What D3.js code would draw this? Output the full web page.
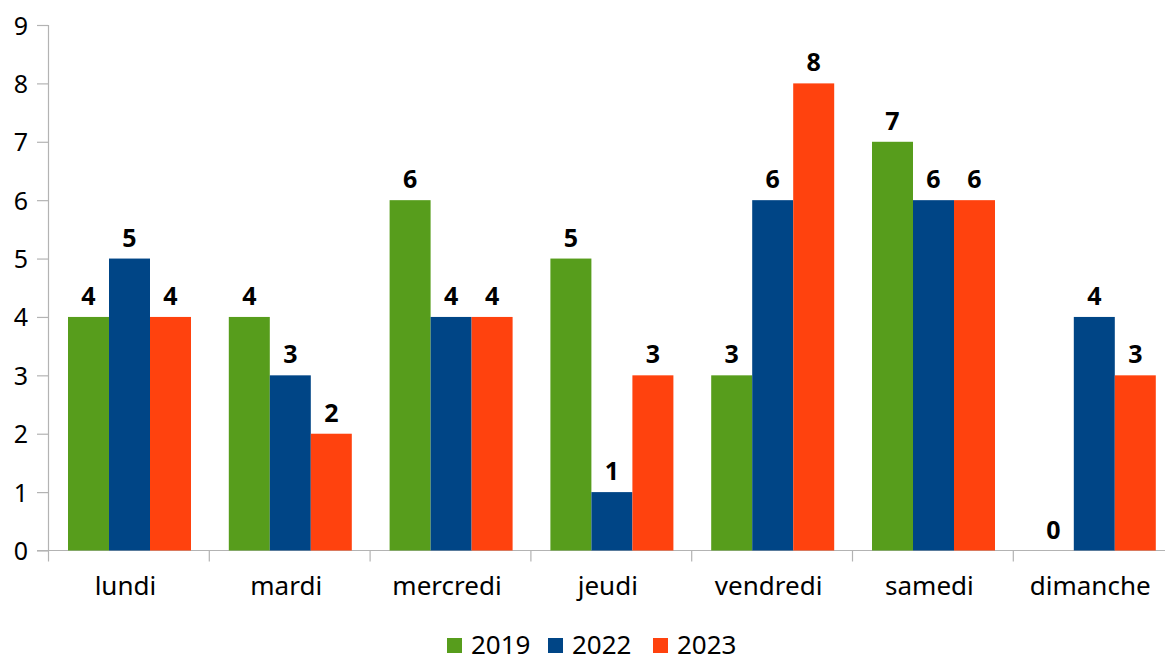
<!DOCTYPE html>
<html>
<head>
<meta charset="utf-8">
<style>
html, body { margin: 0; padding: 0; background: #fff; }
svg { display: block; }
text { font-family: "Noto Sans", sans-serif; fill: #000; }
</style>
</head>
<body>
<svg id="chart" width="1165" height="664"></svg>
<script src="https://d3js.org/d3.v7.min.js"></script>
<script>
var days = ["lundi", "mardi", "mercredi", "jeudi", "vendredi", "samedi", "dimanche"];
var seriesNames = ["2019", "2022", "2023"];
var values2019 = [4, 4, 6, 5, 3, 7, 0];
var values2022 = [5, 3, 4, 1, 6, 6, 4];
var values2023 = [4, 2, 4, 3, 8, 6, 3];
var yTicks = [0, 1, 2, 3, 4, 5, 6, 7, 8, 9];
var colors = ["#579d1c", "#004586", "#ff420e"];

var allSeries = [values2019, values2022, values2023];

var svg = d3.select("#chart");
var left = 48, bandW = 160.8;

var x = d3.scaleBand().domain(days).range([left, left + days.length * bandW]);
var xs = d3.scaleBand().domain(seriesNames).range([20, 143]);
var y = d3.scaleLinear().domain([0, 9]).range([550.5, 25]);

// y axis
var yAxis = svg.append("g").attr("transform", "translate(" + left + ",0)")
    .call(d3.axisLeft(y).tickValues(yTicks).tickSize(11).tickPadding(9).tickFormat(d3.format("d")));
yAxis.selectAll("path, line").attr("stroke", "#b3b3b3").attr("stroke-width", 1.2);
yAxis.select(".domain").attr("d", "M0.5," + y(9) + "V" + y(0));
yAxis.selectAll("text").style("font-size", "25px").attr("dy", "0.36em").attr("fill", "#000");

// x axis: baseline and boundary ticks
var xAxis = svg.append("g").attr("transform", "translate(0," + y(0) + ")");
xAxis.append("line").attr("x1", left - 11).attr("x2", 1165).attr("y1", 0).attr("y2", 0)
    .attr("stroke", "#b3b3b3").attr("stroke-width", 1.2);
xAxis.selectAll(".bt").data(days).enter().append("line")
    .attr("x1", function(d) { return x(d) + 0.5; })
    .attr("x2", function(d) { return x(d) + 0.5; })
    .attr("y1", 0).attr("y2", 11)
    .attr("stroke", "#b3b3b3").attr("stroke-width", 1.2);
xAxis.selectAll(".xl").data(days).enter().append("text")
    .attr("x", function(d) { return x(d) + bandW / 2 - 3; })
    .attr("y", 44)
    .attr("text-anchor", "middle")
    .style("font-size", "26px")
    .text(function(d) { return d; });

// bars
seriesNames.forEach(function(s, si) {
    var g = svg.append("g");
    var data = days.map(function(d, i) { return { day: d, v: allSeries[si][i] }; });
    g.selectAll("rect").data(data).enter().append("rect")
        .attr("x", function(d) { return x(d.day) + xs(s); })
        .attr("width", xs.bandwidth())
        .attr("y", function(d) { return y(d.v); })
        .attr("height", function(d) { return y(0) - y(d.v); })
        .attr("fill", colors[si]);
    g.selectAll("text").data(data).enter().append("text")
        .attr("x", function(d) { return x(d.day) + xs(s) + xs.bandwidth() / 2; })
        .attr("y", function(d) { return y(d.v) - 12; })
        .attr("text-anchor", "middle")
        .style("font-size", "25px")
        .style("font-weight", "bold")
        .text(function(d) { return d.v; });
});

// legend
var legend = svg.append("g");
var legX = [447, 548, 653];
seriesNames.forEach(function(s, i) {
    legend.append("rect").attr("x", legX[i]).attr("y", 638).attr("width", 15).attr("height", 15).attr("fill", colors[i]);
    legend.append("text").attr("x", legX[i] + 24).attr("y", 654).style("font-size", "26px").text(s);
});
</script>
</body>
</html>
